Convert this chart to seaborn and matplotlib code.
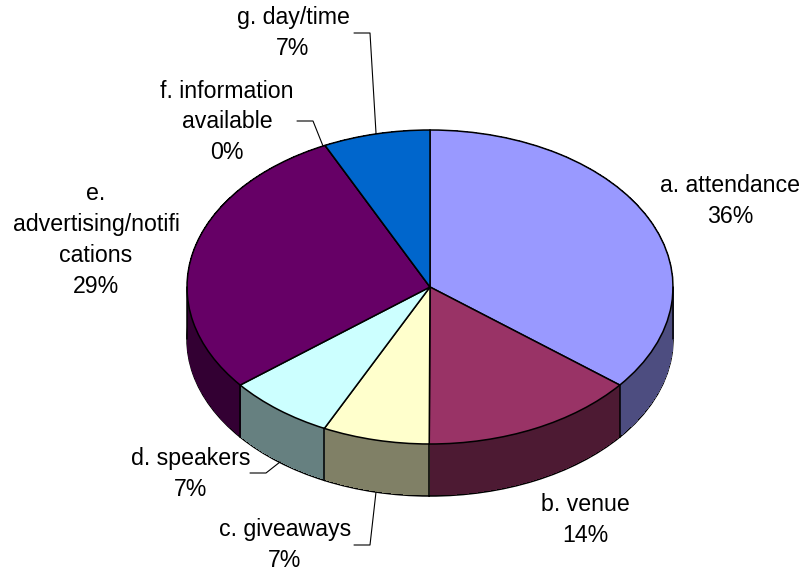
import numpy as np
import pandas as pd
import seaborn as sns
import matplotlib
matplotlib.use("Agg")
import matplotlib.pyplot as plt
from matplotlib.lines import Line2D

categories = ["a. attendance", "b. venue", "c. giveaways", "d. speakers",
              "e.\nadvertising/notifi\ncations", "f. information\navailable", "g. day/time"]
shares = [35.7, 14.3, 7.1, 7.1, 28.6, 0.0, 7.1]
top_colors = ["#9999FF", "#993366", "#FFFFCC", "#CCFFFF", "#660066", "#FF8080", "#0066CC"]
wall_colors = ["#4D4D80", "#4D1A33", "#808066", "#668080", "#330033", "#804040", "#003366"]

# layout, in picture pixels
W, H = 802, 572
CX, CY, RX, RY, DEPTH = 430, 287, 243, 157, 52
label_pos = [(730, 201), (585, 520), (285, 545), (191, 474), (96, 240), (227, 122), (293, 33)]
leaders = [
    [(354, 33), (370, 33), (376, 133)],
    [(297, 121), (313, 121), (323, 146)],
    [(354, 545), (370, 545), (376, 492)],
    [(250, 473), (266, 473), (280, 462)],
]

sns.set_theme(style="white")
plt.rcParams["font.family"] = ["Liberation Sans", "DejaVu Sans"]

df = pd.DataFrame({"category": categories, "share": shares})
top_pal = sns.color_palette(top_colors)
wall_pal = sns.color_palette(wall_colors)

fig = plt.figure(figsize=(W / 100, H / 100), dpi=100, facecolor="white")
ax = fig.add_axes([0, 0, 1, 1])

depth = DEPTH / RY
common = dict(startangle=90, counterclock=False, radius=1)

# bottom outline
ax.pie(df["share"], colors=wall_pal, center=(0, -depth),
       wedgeprops=dict(edgecolor="black", linewidth=1.1), **common)
# side wall as a stack of layers
for off in np.linspace(depth, 0, DEPTH + 1)[1:]:
    ax.pie(df["share"], colors=wall_pal, center=(0, -off),
           wedgeprops=dict(edgecolor="none", linewidth=0, antialiased=False), **common)

# vertical edges of the wall: slice boundaries on the front half and the silhouette
bounds = np.cumsum(df["share"].to_numpy()) / df["share"].sum() * 2 * np.pi
for t in bounds:
    if np.cos(t) < 0:
        ax.plot([np.sin(t)] * 2, [np.cos(t), np.cos(t) - depth], color="black", lw=1.1)
for side in (-1, 1):
    ax.plot([side, side], [0, -depth], color="black", lw=1.1)

# top face
ax.pie(df["share"], colors=top_pal, center=(0, 0),
       wedgeprops=dict(edgecolor="black", linewidth=1.1), **common)

ax.set_aspect("auto")
ax.set_xlim(-CX / RX, (W - CX) / RX)
ax.set_ylim(-(H - CY) / RY, CY / RY)

for name, share, (x, y) in zip(df["category"], df["share"], label_pos):
    fig.text(x / W, 1 - y / H, f"{name}\n{share:.0f}%", ha="center", va="center",
             fontsize=16.7, color="black", linespacing=1.44)

for pts in leaders:
    xs, ys = zip(*pts)
    fig.add_artist(Line2D([x / W for x in xs], [1 - y / H for y in ys],
                          transform=fig.transFigure, color="black", lw=0.8))

fig.savefig("out.png", dpi=100, facecolor="white")
